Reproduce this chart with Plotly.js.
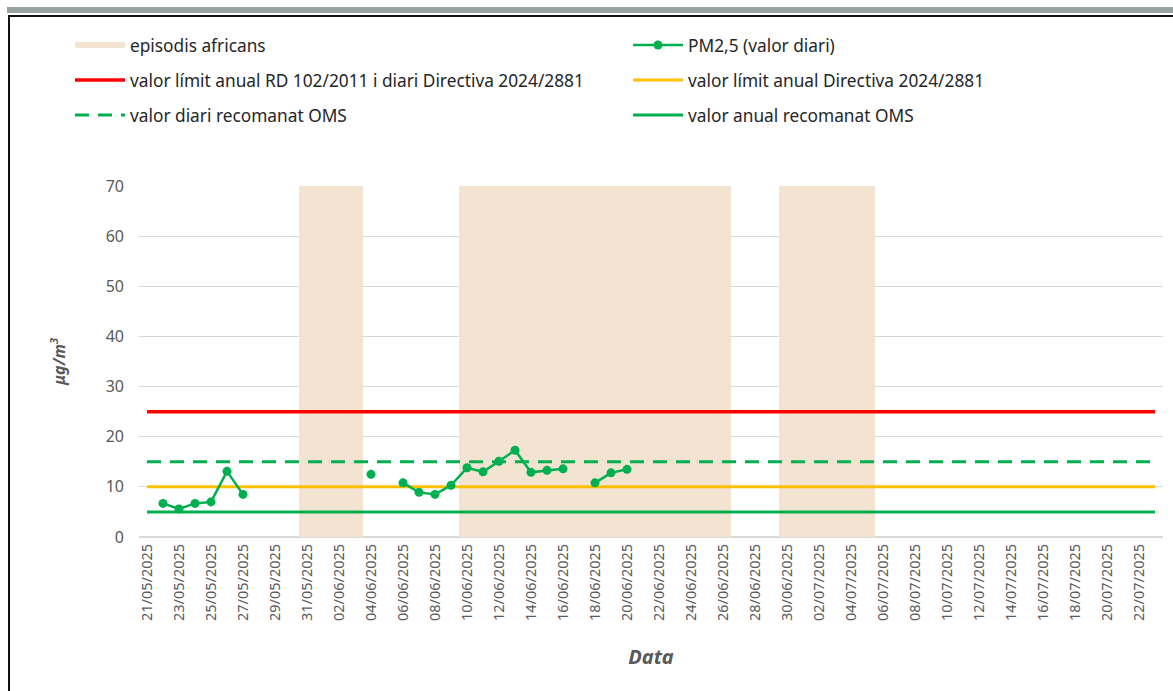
<!DOCTYPE html>
<html>
<head>
<meta charset="utf-8">
<script src="https://cdn.plot.ly/plotly-3.0.1.min.js"></script>
<style>
  html, body { margin: 0; padding: 0; background: #fff; }
  #wrap { position: relative; width: 1173px; height: 691px; overflow: hidden; }
  #chart { position: absolute; left: 0; top: 0; width: 1173px; height: 691px; }
  .deco { position: absolute; pointer-events: none; }
</style>
</head>
<body>
<div id="wrap">
  <div id="chart"></div>
  <div class="deco" style="left:7px; top:7px; width:1166px; height:6px; background:#97A3A3;"></div>
  <div class="deco" style="left:8px; top:15px; width:1165px; height:2px; background:#111;"></div>
  <div class="deco" style="left:8px; top:15px; width:2px; height:676px; background:#111;"></div>
</div>
<script>
// ---- data ----
const pmDates = [
  '2025-05-21','2025-05-22','2025-05-23','2025-05-24','2025-05-25','2025-05-26','2025-05-27',
  '2025-05-28','2025-05-29','2025-05-30','2025-05-31','2025-06-01','2025-06-02','2025-06-03',
  '2025-06-04','2025-06-05','2025-06-06','2025-06-07','2025-06-08','2025-06-09','2025-06-10',
  '2025-06-11','2025-06-12','2025-06-13','2025-06-14','2025-06-15','2025-06-16','2025-06-17',
  '2025-06-18','2025-06-19','2025-06-20'
];
const pmValues = [
  null, 6.7, 5.6, 6.7, 7.0, 13.1, 8.5,
  null, null, null, null, null, null, null,
  12.5, null, 10.8, 8.9, 8.5, 10.3, 13.8,
  13.0, 15.1, 17.3, 12.9, 13.3, 13.6, null,
  10.8, 12.8, 13.5
];
// African dust episodes (first and last day of each)
const episodeStart = ['2025-05-31', '2025-06-10', '2025-06-30'];
const episodeEnd   = ['2025-06-03', '2025-06-26', '2025-07-05'];
const episodeTop = 70;
// period covered by the axis
const periodFirst = '2025-05-21';
const periodLast  = '2025-07-23';
// limit / guideline values (µg/m3)
const limitRD = 25;         // valor límit anual RD 102/2011 i diari Directiva 2024/2881
const limitDirAnnual = 10;  // valor límit anual Directiva 2024/2881
const whoDaily = 15;        // valor diari recomanat OMS
const whoAnnual = 5;        // valor anual recomanat OMS

const names = {
  ep: 'episodis africans',
  pm: 'PM2,5 (valor diari)',
  rd: 'valor límit anual RD 102/2011 i diari Directiva 2024/2881',
  dirA: 'valor límit anual Directiva 2024/2881',
  whoD: 'valor diari recomanat OMS',
  whoA: 'valor anual recomanat OMS'
};

// ---- helpers ----
const DAY = 86400000;
function shift(dateStr, days) {
  const t = new Date(dateStr + 'T00:00:00Z').getTime() + days * DAY;
  return new Date(t).toISOString().slice(0, 19).replace('T', ' ');
}
// band polygons built from episode arrays (each day = one full category slot)
const bandX = [], bandY = [];
for (let i = 0; i < episodeStart.length; i++) {
  const a = shift(episodeStart[i], -0.5), b = shift(episodeEnd[i], 0.5);
  bandX.push(a, a, b, b, a, null);
  bandY.push(0, episodeTop, episodeTop, 0, 0, null);
}
const lineX = [periodFirst, periodLast];
const flat = v => lineX.map(() => v);

const GREEN = '#00B050';
const traces = [
  { type: 'scatter', x: bandX, y: bandY, mode: 'none', fill: 'toself',
    fillcolor: '#F2E4D0', name: names.ep, legend: 'legend', legendgroup: 'g1', hoverinfo: 'skip' },
  { type: 'scatter', x: lineX, y: flat(limitRD), mode: 'lines', line: { color: '#FF0000', width: 3.5 },
    name: names.rd, legend: 'legend', legendgroup: 'g2' },
  { type: 'scatter', x: lineX, y: flat(whoDaily), mode: 'lines', line: { color: GREEN, width: 3, dash: '14px,9px' },
    name: names.whoD, legend: 'legend', legendgroup: 'g3' },
  { type: 'scatter', x: lineX, y: flat(limitDirAnnual), mode: 'lines', line: { color: '#FFC000', width: 3 },
    name: names.dirA, legend: 'legend2', legendgroup: 'g5', legendrank: 2 },
  { type: 'scatter', x: lineX, y: flat(whoAnnual), mode: 'lines', line: { color: GREEN, width: 3 },
    name: names.whoA, legend: 'legend2', legendgroup: 'g6', legendrank: 3 },
  { type: 'scatter', x: pmDates, y: pmValues, mode: 'lines+markers', connectgaps: false,
    line: { color: GREEN, width: 2.5 }, marker: { color: GREEN, size: 9 },
    name: names.pm, legend: 'legend2', legendgroup: 'g4', legendrank: 1 }
];

const L = 139, R = 10, T = 186, B = 153.5;
const W = 1173 - L - R, H = 691 - T - B;
const px2x = p => (p - L) / W;
const py2y = p => (691 - B - p) / H;

const legendFont = { family: 'Noto Sans, sans-serif', size: 17.3, color: '#262626' };
const layout = {
  width: 1173, height: 691,
  margin: { l: L, r: R, t: T, b: B, autoexpand: false },
  paper_bgcolor: '#ffffff', plot_bgcolor: '#ffffff',
  font: { family: 'Noto Sans, sans-serif', color: '#595959' },
  xaxis: {
    type: 'date',
    range: [shift(periodFirst, -0.5), shift(periodLast, 0.5)],
    tick0: periodFirst, dtick: 2 * DAY, tickformat: '%d/%m/%Y', tickangle: -90,
    tickfont: { size: 14.5, color: '#595959' },
    showgrid: false, zeroline: false, showline: false, ticks: '', ticklabelstandoff: 3,
    automargin: false,
    title: { text: '<b><i>Data</i></b>', font: { size: 20, color: '#595959' }, standoff: 29 }
  },
  yaxis: {
    range: [0, 70], dtick: 10, tick0: 0,
    tickfont: { size: 16, color: '#595959' },
    showgrid: true, gridcolor: '#D9D9D9', gridwidth: 1,
    zeroline: true, zerolinecolor: '#D9D9D9', zerolinewidth: 1.5,
    showline: false, ticks: '', ticklabelstandoff: 14,
    automargin: false,
    title: { text: '<b><i>μg/m<sup>3</sup></i></b>', font: { size: 16, color: '#595959' }, standoff: 36 }
  },
  showlegend: true,
  legend: {
    x: px2x(70), y: py2y(27), xanchor: 'left', yanchor: 'top',
    orientation: 'v', bgcolor: 'rgba(0,0,0,0)', font: legendFont,
    itemwidth: 50, tracegroupgap: 9.5, traceorder: 'grouped'
  },
  legend2: {
    x: px2x(628), y: py2y(27), xanchor: 'left', yanchor: 'top',
    orientation: 'v', bgcolor: 'rgba(0,0,0,0)', font: legendFont,
    itemwidth: 50, tracegroupgap: 9.5, traceorder: 'grouped'
  }
};

Plotly.newPlot('chart', traces, layout, { displayModeBar: false, responsive: false });
</script>
</body>
</html>
